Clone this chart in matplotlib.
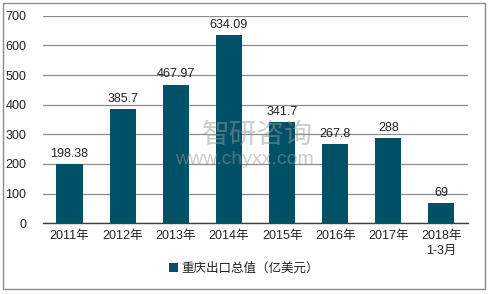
import matplotlib
matplotlib.use("Agg")
import matplotlib.pyplot as plt
from matplotlib.patches import Rectangle

plt.rcParams['font.family'] = ['Liberation Sans', 'Noto Sans CJK SC', 'DejaVu Sans']

categories = ["2011年", "2012年", "2013年", "2014年", "2015年", "2016年", "2017年", "2018年\n1-3月"]
values = [198.38, 385.7, 467.97, 634.09, 341.7, 267.8, 288, 69]
labels = ["198.38", "385.7", "467.97", "634.09", "341.7", "267.8", "288", "69"]
series_name = "重庆出口总值（亿美元）"
yticks = [0, 100, 200, 300, 400, 500, 600, 700]

BAR = "#005068"

fig = plt.figure(figsize=(4.88, 2.94), dpi=100)
ax = fig.add_axes([0.088, 0.241, 0.871, 0.705])

x = list(range(len(categories)))
ax.bar(x, values, width=0.49, color=BAR, zorder=3, label=series_name)
for xi, v, s in zip(x, values, labels):
    ax.text(xi, v + 14, s, ha="center", va="bottom", fontsize=9, color="#222222", zorder=4)

ax.set_xlim(-0.5, len(categories) - 0.5)
ax.set_ylim(0, 700)
ax.set_yticks(yticks)
ax.set_xticks(x)
ax.set_xticklabels(categories, fontsize=9, color="#222222", linespacing=1.3)
ax.tick_params(axis="y", labelsize=9, colors="#222222", length=0, pad=12)
ax.tick_params(axis="x", length=0, pad=5)
ax.yaxis.grid(True, color="#8c8c8c", linewidth=0.9, zorder=0)
for side in ("left", "right", "top"):
    ax.spines[side].set_visible(False)
ax.spines["bottom"].set_color("#404040")
ax.spines["bottom"].set_linewidth(1.0)

# 水印
fig.text(0.527, 0.537, "智研咨询", fontsize=20, color="#9a9a9a", alpha=0.5,
         ha="center", va="center", zorder=10)
fig.text(0.5, 0.456, "www.chyxx.com", fontsize=14, color="#9a9a9a", alpha=0.5,
         ha="center", va="center", zorder=10)

leg = fig.legend(loc="center", bbox_to_anchor=(0.5, 0.085), frameon=False, fontsize=9,
                 handlelength=0.7, handleheight=0.7, handletextpad=0.3)
for t in leg.get_texts():
    t.set_color("#222222")

fig.patches.append(Rectangle((0.006, 0.017), 0.988, 0.973, transform=fig.transFigure,
                             fill=False, edgecolor="#8c8c8c", linewidth=1.0))

fig.savefig("out.png", dpi=100)
